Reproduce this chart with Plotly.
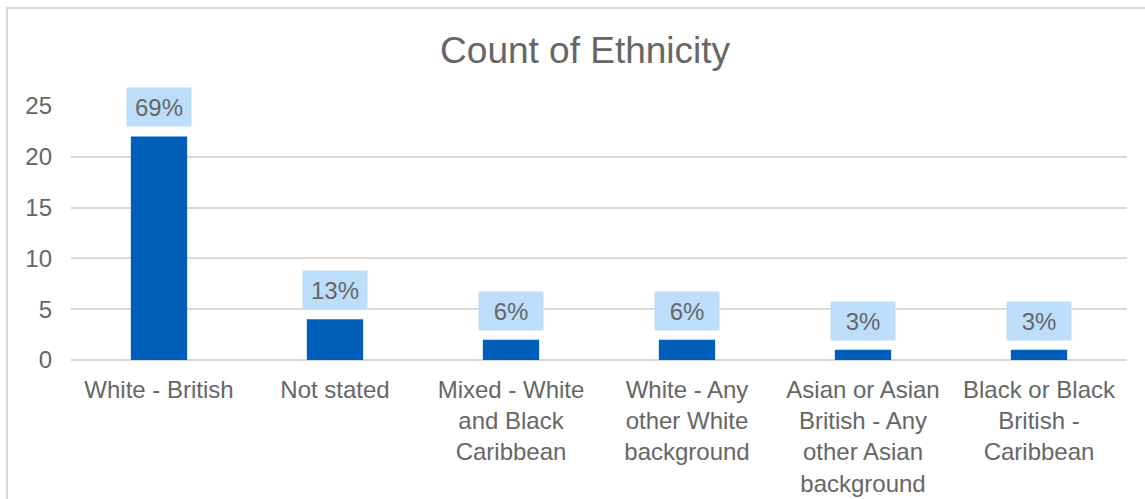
import plotly.graph_objects as go

categories = ["White - British", "Not stated", "Mixed - White<br>and Black<br>Caribbean",
              "White - Any<br>other White<br>background", "Asian or Asian<br>British - Any<br>other Asian<br>background",
              "Black or Black<br>British -<br>Caribbean"]
counts = [22, 4, 2, 2, 1, 1]
pct_labels = ["69%", "13%", "6%", "6%", "3%", "3%"]
y_ticks = [0, 5, 10, 15, 20, 25]

FONT = "Liberation Sans, Arial, sans-serif"
GREY = "#666666"

fig = go.Figure(go.Bar(x=categories, y=counts, marker_color="#005EB8", marker_line_width=0))

for c, v, t in zip(categories, counts, pct_labels):
    fig.add_annotation(x=c, y=v, xref="x", yref="y", text=t, showarrow=False,
                       yanchor="bottom", yshift=9, bgcolor="#BDDEFB", borderpad=5,
                       width=54, height=28,
                       font=dict(family=FONT, size=24, color=GREY))

fig.add_shape(type="rect", xref="paper", yref="paper", x0=-0.0606, x1=1.2, y0=-1.0, y1=1.386,
              line=dict(color="#D9D9D9", width=2), fillcolor="rgba(0,0,0,0)", layer="below")

fig.update_layout(
    width=1145, height=499,
    margin=dict(l=71, r=18, t=106, b=139, autoexpand=False),
    paper_bgcolor="white", plot_bgcolor="white",
    bargap=0.68,
    showlegend=False,
    title=dict(text="Count of Ethnicity", x=0.511, xref="container", xanchor="center",
               y=1 - 50 / 499, yref="container", yanchor="middle",
               font=dict(family=FONT, size=37, color=GREY)),
    font=dict(family=FONT, size=24, color=GREY),
)
fig.update_yaxes(range=[0, 25], tickvals=y_ticks, showgrid=True, gridcolor="#D9D9D9", gridwidth=1.5,
                 zeroline=True, zerolinecolor="#D9D9D9", zerolinewidth=1.5, showline=False,
                 automargin=False, ticklabelstandoff=18, tickfont=dict(family=FONT, size=24, color=GREY))
fig.update_xaxes(showline=False, showgrid=False, ticks="", ticklabelstandoff=13, automargin=False,
                 tickfont=dict(family=FONT, size=24, color=GREY))

fig.write_html("out.html")
